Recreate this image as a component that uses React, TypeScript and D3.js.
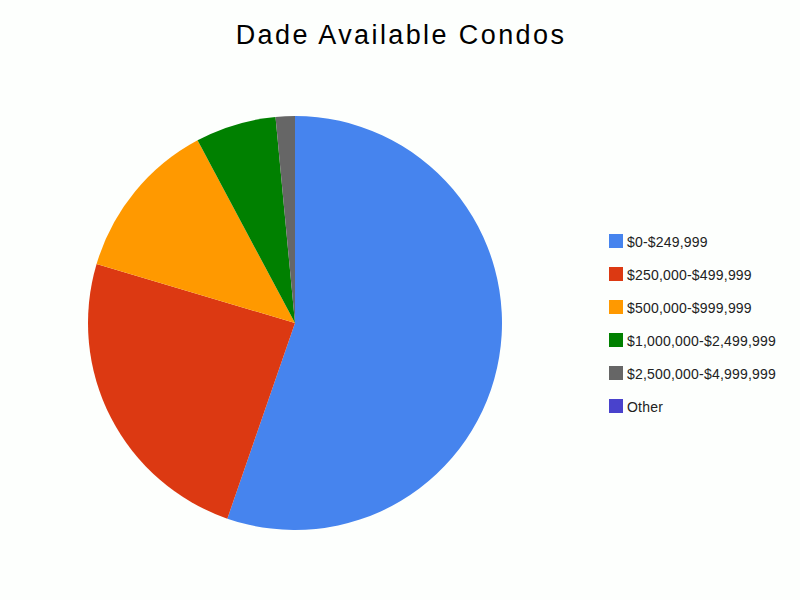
import { useMemo } from "react";
import * as d3 from "d3";

const WIDTH = 800;
const HEIGHT = 600;
const CENTER = { x: 295, y: 323 };
const RADIUS = 207;

const categories = [
  "$0-$249,999",
  "$250,000-$499,999",
  "$500,000-$999,999",
  "$1,000,000-$2,499,999",
  "$2,500,000-$4,999,999",
  "Other",
];
const values = [55.3, 24.3, 12.6, 6.3, 1.5, 0];
const colors = ["#4684ee", "#dc3912", "#ff9900", "#008000", "#666666", "#4942cc"];

export default function App() {
  const arcs = useMemo(() => {
    const pie = d3.pie<number>().sort(null).value((d) => d);
    return pie(values);
  }, []);

  const arcGen = d3.arc<d3.PieArcDatum<number>>().innerRadius(0).outerRadius(RADIUS);

  return (
    <svg
      width={WIDTH}
      height={HEIGHT}
      style={{ position: "absolute", left: 0, top: 0, background: "#fdfffd" }}
      fontFamily="'Liberation Sans', Arial, sans-serif"
    >
      <rect width={WIDTH} height={HEIGHT} fill="#fdfffd" />
      <text x={401} y={44} textAnchor="middle" fontSize={27} letterSpacing={2.4} fill="#000">
        Dade Available Condos
      </text>
      <g transform={`translate(${CENTER.x},${CENTER.y})`}>
        {arcs.map((a, i) =>
          a.value > 0 ? <path key={i} d={arcGen(a) || ""} fill={colors[i]} /> : null
        )}
      </g>
      <g transform="translate(609,234)">
        {categories.map((c, i) => (
          <g key={c} transform={`translate(0,${i * 33})`}>
            <rect width={14} height={14} fill={colors[i]} />
            <text x={18} y={12.5} fontSize={14} letterSpacing={0.2} fill="#222">
              {c}
            </text>
          </g>
        ))}
      </g>
    </svg>
  );
}
